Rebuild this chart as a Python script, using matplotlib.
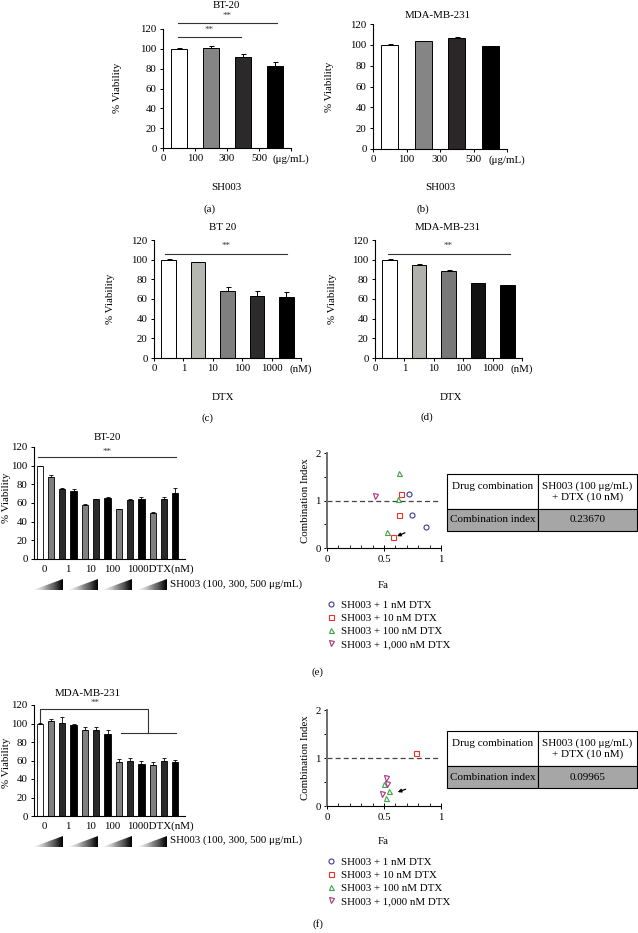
import numpy as np
import matplotlib
matplotlib.use('Agg')
import matplotlib.pyplot as plt
from matplotlib.patches import Polygon

plt.rcParams['font.family'] = ['Liberation Serif', 'DejaVu Serif']
plt.rcParams['font.size'] = 7.8

W, H = 638, 933

# ---- data ----
sh_ticks = ['0', '100', '300', '500', '(μg/mL)']
bt20_sh = [100, 100.7, 91.6, 82.9]
bt20_sh_err = [0.5, 1.8, 2.8, 3.6]
mda_sh = [100, 103.5, 106.1, 98.4]
mda_sh_err = [0.8, 0.5, 1.3, 0.5]

dtx_ticks = ['0', '1', '10', '100', '1000', '(nM)']
bt20_dtx = [100, 97.3, 68, 63.3, 62.2]
bt20_dtx_err = [1.0, 0.5, 3.7, 4.8, 5.1]
mda_dtx = [100, 94.9, 88.8, 75.9, 74.1]
mda_dtx_err = [0.8, 0.4, 0.6, 0.3, 0.5]

combo_ticks = ['0', '1', '10', '100', '1000DTX(nM)']
bt20_combo = [100, 87.7, 75.4, 72.6, 57.5, 63.9, 65.6, 54, 62.8, 64.6, 49.8, 63.9, 70.9]
bt20_combo_err = [0, 2, 1, 2, 1.5, 0, 1, 0, 1, 1.5, 0.5, 3, 5.5]
mda_combo = [100, 103.2, 100.7, 98.2, 92.5, 92.5, 89, 58.4, 59, 56.2, 55.2, 59.8, 58.4]
mda_combo_err = [0.5, 2, 6.5, 1.8, 3.5, 3.5, 3.5, 3.2, 3.2, 3.6, 3, 2.5, 2]

ci_labels = ['SH003 + 1 nM DTX', 'SH003 + 10 nM DTX', 'SH003 + 100 nM DTX', 'SH003 + 1,000 nM DTX']
bt20_fa = [[0.72, 0.745, 0.87], [0.65, 0.63, 0.58], [0.63, 0.62, 0.53], [0.42]]
bt20_ci = [[1.14, 0.70, 0.44], [1.14, 0.70, 0.23], [1.58, 1.03, 0.34], [1.09]]
mda_fa = [[], [0.78], [0.50, 0.54, 0.515], [0.515, 0.53, 0.485]]
mda_ci = [[], [1.10], [0.45, 0.32, 0.16], [0.58, 0.46, 0.25]]

table_rows = ['Drug combination\n', 'Combination index']
table_combo = 'SH003 (100 μg/mL)\n+ DTX (10 nM)'
bt20_table_ci = '0.23670'
mda_table_ci = '0.09965'

fig = plt.figure(figsize=(W / 100, H / 100), dpi=100)


def px_axes(x0, y0, x1, y1):
    return fig.add_axes([x0 / W, 1 - y1 / H, (x1 - x0) / W, (y1 - y0) / H])


def ftext(x, y, s, **kw):
    kw.setdefault('ha', 'center')
    kw.setdefault('va', 'center')
    fig.text(x / W, 1 - y / H, s, **kw)


def style_axes(ax):
    for s in ['top', 'right']:
        ax.spines[s].set_visible(False)
    for s in ['left', 'bottom']:
        ax.spines[s].set_linewidth(0.8)
    ax.tick_params(direction='out', length=2.5, width=0.7, labelsize=7.8, pad=2)


def viability_bars(ax, vals, errs, colors, ticks):
    x = np.arange(len(vals)) + 0.5
    ax.bar(x, vals, width=0.5, color=colors, edgecolor='black', linewidth=0.7, zorder=2)
    ax.errorbar(x, vals, yerr=[np.zeros(len(errs)), errs], fmt='none', ecolor='black',
                elinewidth=0.7, capsize=1.8, capthick=0.7, zorder=3)
    ax.set_xlim(0, len(ticks) - 1)
    ax.set_xticks(range(len(ticks)))
    ax.set_xticklabels(ticks)
    ax.set_ylim(0, 120)
    ax.set_yticks(range(0, 121, 20))
    style_axes(ax)


def sig(ax, x0, x1, y, ys, xs):
    ax.plot([x0, x1], [y, y], color='#333333', lw=0.8, clip_on=False)
    ax.text(xs, ys, '**', ha='center', va='center', fontsize=6.5, color='#333333')


# (a) BT-20 SH003
ax = px_axes(163, 29, 291, 148)
viability_bars(ax, bt20_sh, bt20_sh_err, ['white', '#858585', '#2b2929', 'black'], sh_ticks)
sig(ax, 0.47, 2.44, 112, 119, 1.44)
sig(ax, 0.47, 3.56, 126, 133, 2.0)
ftext(226, 5, 'BT-20')
ftext(118, 88, '% Viability', rotation=90)
ftext(226, 188, 'SH003')
ftext(209, 209, '(a)')

# (b) MDA-MB-231 SH003
ax = px_axes(373, 24, 507, 149)
viability_bars(ax, mda_sh, mda_sh_err, ['white', '#858585', '#2b2628', 'black'], sh_ticks)
ftext(438, 16, 'MDA-MB-231')
ftext(330, 87, '% Viability', rotation=90)
ftext(440, 188, 'SH003')
ftext(423, 209, '(b)')

# (c) BT 20 DTX
ax = px_axes(154, 240, 301, 358)
viability_bars(ax, bt20_dtx, bt20_dtx_err, ['white', '#b5b7b1', '#7f7f7f', '#2c2a2a', 'black'], dtx_ticks)
sig(ax, 0.37, 4.52, 105.8, 114, 2.45)
ftext(223, 228, 'BT 20')
ftext(110, 299, '% Viability', rotation=90)
ftext(223, 397, 'DTX')
ftext(207, 418, '(c)')

# (d) MDA-MB-231 DTX
ax = px_axes(375, 240, 522, 358)
viability_bars(ax, mda_dtx, mda_dtx_err, ['white', '#b0b1ab', '#787878', '#121212', 'black'], dtx_ticks)
sig(ax, 0.44, 4.59, 105.8, 114, 2.48)
ftext(448, 228, 'MDA-MB-231')
ftext(332, 299, '% Viability', rotation=90)
ftext(451, 397, 'DTX')
ftext(427, 417, '(d)')


def combo_bars(y0, y1, vals, errs, ramp_y0, ramp_y1):
    ax = px_axes(34, y0, 185, y1)
    x = np.arange(len(vals))
    colors = ['white'] + ['#808080', '#2b2929', 'black'] * 4
    ax.bar(x, vals, width=0.55, color=colors, edgecolor='black', linewidth=0.6, zorder=2)
    ax.errorbar(x, vals, yerr=[np.zeros(len(errs)), errs], fmt='none', ecolor='black',
                elinewidth=0.6, capsize=1.5, capthick=0.6, zorder=3)
    ax.set_xlim(-0.5, 12.85)
    ax.set_ylim(0, 120)
    ax.set_yticks(range(0, 121, 20))
    ax.set_xticks([0.38, 2.51, 4.54, 6.4, 10.64])
    ax.set_xticklabels(combo_ticks)
    style_axes(ax)
    ax.tick_params(axis='x', length=0, pad=4)
    # concentration wedges
    rax = px_axes(34, ramp_y0, 185, ramp_y1)
    rax.set_xlim(ax.get_xlim())
    rax.set_ylim(0, 1)
    rax.axis('off')
    grad = np.linspace(0.05, 1, 100).reshape(1, -1)
    for g in range(4):
        xs = -0.59 + 3.07 * g
        xe = xs + 2.65
        im = rax.imshow(grad, extent=[xs, xe, 0, 1], cmap='Greys', vmin=0, vmax=1, aspect='auto')
        tri = Polygon([(xs, 0), (xe, 0), (xe, 1)], closed=True, transform=rax.transData)
        im.set_clip_path(tri)
    return ax


# (e) BT-20 combination
ax = combo_bars(447, 559, bt20_combo, bt20_combo_err, 579, 590)
ax.plot([-0.15, 12.05], [109.3, 109.3], color='#333333', lw=0.8, clip_on=False)
ax.text(5.95, 114.7, '**', ha='center', va='center', fontsize=6.5, color='#333333')
ftext(107, 437, 'BT-20')
ftext(7, 498, '% Viability', rotation=90)
ftext(170, 584, 'SH003 (100, 300, 500 μg/mL)', ha='left')

# (f) MDA-MB-231 combination
ax = combo_bars(705, 816, mda_combo, mda_combo_err, 836, 847)
ax.plot([0.03, 0.03, 9.58, 9.58], [100.5, 115.7, 115.7, 89.7], color='#333333', lw=0.8, clip_on=False)
ax.plot([7.19, 12.05], [89.7, 89.7], color='#333333', lw=0.8, clip_on=False)
ax.text(4.9, 122, '**', ha='center', va='center', fontsize=6.5, color='#333333')
ftext(88, 693, 'MDA-MB-231')
ftext(7, 763, '% Viability', rotation=90)
ftext(170, 840, 'SH003 (100, 300, 500 μg/mL)', ha='left')

marker_styles = [('o', '#3a3a9a'), ('s', '#e8322c'), ('^', '#3aa845'), ('v', '#a8327e')]


def ci_panel(y0, y1, fa, ci, arrow, leg_y, tab_y0, tab_y1, ci_value):
    ax = px_axes(327, y0, 441, y1)
    for (m, c), xs, ys, lab in zip(marker_styles, fa, ci, ci_labels):
        ax.plot(xs, ys, marker=m, ls='none', ms=3.6, mfc='none', mec=c, mew=0.8,
                label=lab, clip_on=False, zorder=3)
    ax.axhline(1, color='#444444', lw=0.9, dashes=(4, 2.5), zorder=1)
    ax.annotate('', xy=arrow[0], xytext=arrow[1],
                arrowprops=dict(arrowstyle='-|>', color='black', lw=0.9, mutation_scale=5,
                                shrinkA=0, shrinkB=0))
    ax.set_xlim(0, 1)
    ax.set_ylim(0, 2)
    ax.set_xticks([0, 0.5, 1])
    ax.set_xticklabels(['0', '0.5', '1'])
    ax.set_xticks(np.arange(0, 1.01, 0.1), minor=True)
    ax.set_yticks([0, 1, 2])
    ax.set_yticks([0.5, 1.5], minor=True)
    for s in ['top', 'right']:
        ax.spines[s].set_visible(False)
    ax.spines['left'].set_color('#6d6d6d')
    ax.spines['left'].set_linewidth(1.4)
    ax.spines['bottom'].set_linewidth(0.8)
    ax.tick_params(axis='y', which='both', direction='out', length=2.5, width=0.7, labelsize=7.8, pad=2)
    ax.tick_params(axis='x', which='major', direction='inout', length=4, width=0.7, labelsize=7.8, pad=3)
    ax.tick_params(axis='x', which='minor', direction='in', length=2, width=0.6)
    ax.legend(loc='upper left', bbox_to_anchor=(326 / W, 1 - leg_y / H), bbox_transform=fig.transFigure,
              frameon=False, fontsize=7.8, borderpad=0, borderaxespad=0, handlelength=1,
              handletextpad=0.4, labelspacing=0.33)

    tax = px_axes(447, tab_y0, 637, tab_y1)
    tax.axis('off')
    tbl = tax.table(cellText=[[table_rows[0], table_combo], [table_rows[1], ci_value]],
                    cellLoc='center', bbox=[0, 0, 1, 1], colWidths=[0.48, 0.52])
    tbl.auto_set_font_size(False)
    tbl.set_fontsize(8)
    for (r, c), cell in tbl.get_celld().items():
        cell.set_height(35 if r == 0 else 22)
        cell.set_linewidth(0.8)
        if r == 1:
            cell.set_facecolor('#a6a6a6')
    return ax


ci_panel(453, 548, bt20_fa, bt20_ci, ((0.614, 0.25), (0.684, 0.32)), 600, 474, 531, bt20_table_ci)
ftext(306, 501, 'Combination Index', rotation=90)
ftext(383, 586, 'Fa')
ftext(317, 672, '(e)')

ci_panel(710, 806, mda_fa, mda_ci, ((0.62, 0.29), (0.69, 0.35)), 857, 731, 788, mda_table_ci)
ftext(306, 758, 'Combination Index', rotation=90)
ftext(383, 842, 'Fa')
ftext(318, 924, '(f)')

fig.savefig('out.png', dpi=100)
